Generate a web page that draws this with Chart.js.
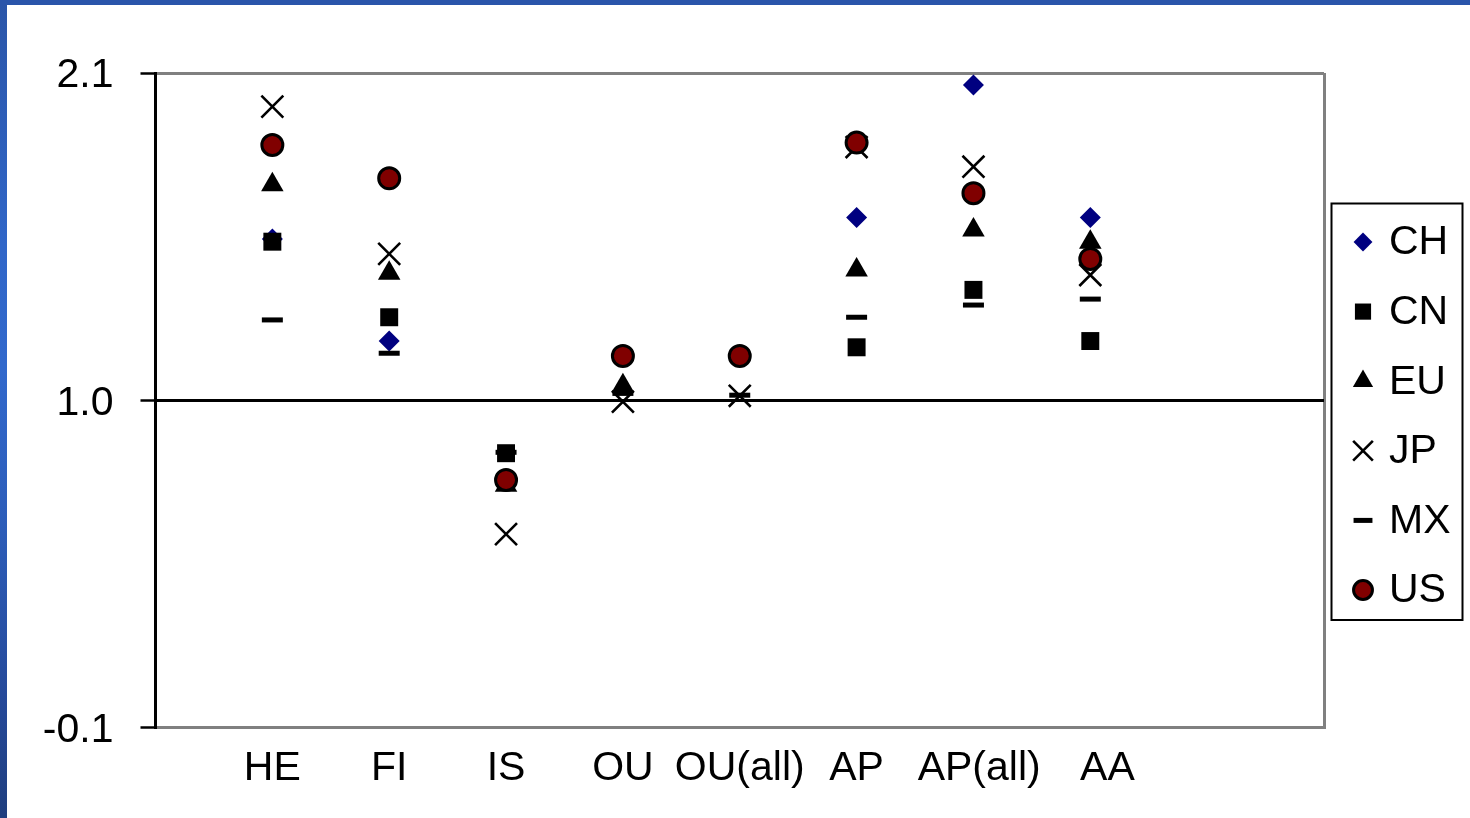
<!DOCTYPE html>
<html>
<head>
<meta charset="utf-8">
<script src="https://cdn.jsdelivr.net/npm/chart.js@4/dist/chart.umd.min.js"></script>
<style>
  html, body { margin: 0; padding: 0; background: #ffffff; overflow: hidden; }
  #wrap { position: relative; width: 1470px; height: 818px; background: #ffffff; }
  #leftStrip { position: absolute; left: 0; top: 0; width: 7px; height: 818px;
    background: linear-gradient(to bottom, #2a55a8 0%, #3066c8 30%, #3168cc 45%, #2c5cb8 65%, #25499a 85%, #1f3e7e 100%); }
  #topStrip { position: absolute; left: 0; top: 0; width: 1470px; height: 5px; background: #2a55aa; }
  #c { position: absolute; left: 0; top: 0; }
</style>
</head>
<body>
<div id="wrap">
  <div id="leftStrip"></div>
  <div id="topStrip"></div>
  <canvas id="c" width="1470" height="818"></canvas>
</div>
<script>
// ---- data ----
const categories = ['HE', 'FI', 'IS', 'OU', 'OU(all)', 'AP', 'AP(all)', 'AA'];
// category tick labels as printed (the source puts the last two slightly right of their slot)
const tickLabels = ['HE', 'FI', 'IS', 'OU', 'OU(all)', 'AP', '\u00A0AP(all)', '\u00A0\u00A0\u00A0AA'];
const yTicks = [-0.1, 1.0, 2.1];
const CH = [1.542, 1.199, 0.730, null, null, 1.614, 2.060, 1.614];
const CN = [1.533, 1.279, 0.822, null, null, 1.178, 1.371, 1.199];
const EU = [1.724, 1.427, 0.714, 1.049, null, 1.438, 1.572, 1.531];
const JP = [1.987, 1.492, 0.550, 0.995, 1.015, 1.851, 1.785, 1.421];
const MX = [1.270, 1.158, 0.825, 1.023, 1.017, 1.279, 1.320, 1.340];
const US = [1.858, 1.746, 0.732, 1.149, 1.149, 1.866, 1.696, 1.475];

// category slots: one empty slot before, two after
const labels = [''].concat(categories, ['', '']);
const shownLabels = [''].concat(tickLabels, ['', '']);
const pad = arr => [null].concat(arr, [null, null]);

const FONT = "'Liberation Sans', Arial, sans-serif";

const styles = {
  CH: { pointStyle: 'rectRot', radius: 10.5, bg: '#000080', border: '#000080', bw: 0, order: 6 },
  CN: { pointStyle: 'rect', radius: 12.7, bg: '#000000', border: '#000000', bw: 0, order: 5 },
  EU: { pointStyle: 'triangle', radius: 13, bg: '#000000', border: '#000000', bw: 0, order: 4 },
  JP: { pointStyle: 'crossRot', radius: 15.5, bg: '#000000', border: '#000000', bw: 2.6, order: 3 },
  MX: { pointStyle: 'line', radius: 10.5, bg: '#000000', border: '#000000', bw: 5, order: 2 },
  US: { pointStyle: 'circle', radius: 10.5, bg: '#800000', border: '#000000', bw: 3, order: 1 }
};
const series = [['CH', CH], ['CN', CN], ['EU', EU], ['JP', JP], ['MX', MX], ['US', US]];

const datasets = series.map(([name, vals]) => {
  const s = styles[name];
  return {
    label: name,
    data: pad(vals),
    showLine: false,
    order: s.order,
    clip: false,
    pointStyle: s.pointStyle,
    pointRadius: s.radius,
    pointHoverRadius: s.radius,
    pointBackgroundColor: s.bg,
    pointBorderColor: s.border,
    pointBorderWidth: s.bw,
    pointHoverBorderWidth: s.bw
  };
});

// custom boxed legend
const boxLegend = {
  id: 'boxLegend',
  afterDraw(chart) {
    const ctx = chart.ctx;
    ctx.save();
    const L = 1331.5, T = 203.5, R = 1462.5, B = 620;
    ctx.lineWidth = 2;
    ctx.strokeStyle = '#000000';
    ctx.strokeRect(L, T, R - L, B - T);
    ctx.font = '41px ' + FONT;
    ctx.textBaseline = 'middle';
    ctx.textAlign = 'left';
    series.forEach(([name], i) => {
      const s = styles[name];
      const y = 242 + i * 69.6;
      const x = 1363;
      ctx.fillStyle = s.bg;
      ctx.strokeStyle = s.border;
      ctx.lineWidth = s.bw;
      const scale = 0.9;
      if (Chart.helpers && Chart.helpers.drawPoint) {
        Chart.helpers.drawPoint(ctx, {
          pointStyle: s.pointStyle,
          radius: s.radius * scale,
          rotation: 0,
          borderWidth: s.bw > 0 ? Math.max(s.bw * 0.85, 2) : 0
        }, x, y);
      }
      ctx.fillStyle = '#000000';
      ctx.fillText(name, 1389, y + 1);
    });
    ctx.restore();
  }
};

new Chart(document.getElementById('c'), {
  type: 'line',
  data: { labels: labels, datasets: datasets },
  options: {
    responsive: false,
    animation: false,
    events: [],
    layout: { padding: { top: 73, right: 146, left: 0, bottom: 0 } },
    plugins: { legend: { display: false }, tooltip: { enabled: false } },
    scales: {
      x: {
        type: 'category',
        offset: false,
        grid: {
          display: true,
          drawTicks: false,
          color: c => (c.index === labels.length - 1 ? '#808080' : 'rgba(0,0,0,0)'),
          lineWidth: 3
        },
        border: { display: true, color: '#808080', width: 3 },
        ticks: {
          autoSkip: false,
          maxRotation: 0,
          minRotation: 0,
          padding: 17,
          color: '#000000',
          font: { family: FONT, size: 41 },
          callback: (v, i) => shownLabels[i]
        },
        afterFit: s => { s.height = 90.5; }
      },
      y: {
        type: 'linear',
        min: -0.1,
        max: 2.1,
        afterBuildTicks: s => { s.ticks = yTicks.map(v => ({ value: v })); },
        grid: {
          drawTicks: true,
          tickLength: 15,
          tickWidth: 2.5,
          tickColor: '#000000',
          lineWidth: 3,
          color: c => {
            const v = c.tick ? c.tick.value : null;
            if (v !== null && Math.abs(v - 1.0) < 1e-9) return '#000000';
            if (v !== null && Math.abs(v - 2.1) < 1e-9) return '#808080';
            return 'rgba(0,0,0,0)';
          }
        },
        border: { display: true, color: '#000000', width: 3 },
        ticks: {
          padding: 27,
          labelOffset: 3,
          color: '#000000',
          font: { family: FONT, size: 41 },
          callback: v => Number(v).toFixed(1)
        },
        afterFit: s => { s.width = 155.5; }
      }
    }
  },
  plugins: [boxLegend]
});
</script>
</body>
</html>
